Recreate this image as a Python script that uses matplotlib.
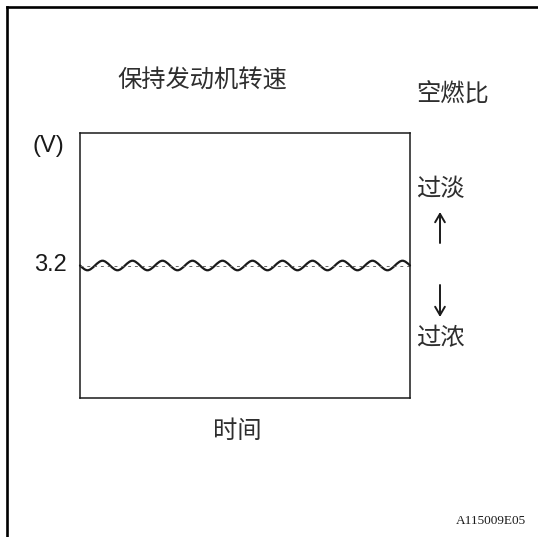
import matplotlib
matplotlib.use("Agg")
import matplotlib.pyplot as plt
from matplotlib.path import Path
from matplotlib.patches import PathPatch, FancyArrowPatch
from matplotlib.lines import Line2D

# data
level_v = 3.2
v_min, v_max = 0.0, 6.4
t_min, t_max = 0.0, 11.0
# extremes of the voltage ripple around 3.2 V (time, volts)
wave_t = [0.0, 0.25, 0.75, 1.25, 1.75, 2.25, 2.75, 3.25, 3.75, 4.25, 4.75, 5.25,
          5.75, 6.25, 6.75, 7.25, 7.75, 8.25, 8.75, 9.25, 9.75, 10.25, 10.75, 11.0]
wave_v = [3.2, 3.085, 3.315, 3.085, 3.315, 3.085, 3.315, 3.085, 3.315, 3.085, 3.315, 3.085,
          3.315, 3.085, 3.315, 3.085, 3.315, 3.085, 3.315, 3.085, 3.315, 3.085, 3.315, 3.2]

title_text = "保持发动机转速"
ratio_text = "空燃比"
lean_text = "过淡"
rich_text = "过浓"
time_text = "时间"
unit_text = "(V)"
tick_text = "3.2"
code_text = "A115009E05"

W, H = 538, 537
cjk = ["Noto Sans CJK SC", "DejaVu Sans"]
ink = "#1a1a1a"
cjk_ink = "#2e2e2e"

fig = plt.figure(figsize=(W / 100, H / 100), dpi=100)


def fx(x):
    return x / W


def fy(y):
    return 1 - y / H


# outer frame (top and left edges only)
fig.add_artist(Line2D([fx(7), 1.0], [fy(7), fy(7)], color="black", lw=1.9))
fig.add_artist(Line2D([fx(7), fx(7)], [fy(7), 0.0], color="black", lw=1.9))

ax = fig.add_axes([fx(80), fy(398), fx(410) - fx(80), fy(133) - fy(398)])
ax.set_xlim(t_min, t_max)
ax.set_ylim(v_min, v_max)
ax.set_xticks([])
ax.set_yticks([])
for s in ax.spines.values():
    s.set_linewidth(1.1)
    s.set_color(ink)

# dashed reference level
ax.axhline(level_v, color="#666666", lw=0.7, dashes=(3, 4))

# smooth ripple through the extremes
verts = [(wave_t[0], wave_v[0])]
codes = [Path.MOVETO]
n = len(wave_t)
for i in range(n - 1):
    x0, y0 = wave_t[i], wave_v[i]
    x1, y1 = wave_t[i + 1], wave_v[i + 1]
    dx = x1 - x0
    c0y = y0 if 0 < i else y0 + (y1 - y0) / 2
    c1y = y1 if i + 1 < n - 1 else y1 + (y0 - y1) / 2
    verts += [(x0 + dx / 3, c0y), (x1 - dx / 3, c1y), (x1, y1)]
    codes += [Path.CURVE4, Path.CURVE4, Path.CURVE4]
ax.add_patch(PathPatch(Path(verts, codes), fill=False, lw=1.6, color=ink,
                       capstyle="round", clip_on=False))

# labels
txt = dict(family=cjk, fontsize=17.5, color=cjk_ink, fontweight="light")
fig.text(fx(202), fy(81), title_text, ha="center", va="center", **txt)
fig.text(fx(453), fy(95), ratio_text, ha="center", va="center", **txt)
fig.text(fx(416), fy(189), lean_text, ha="left", va="center", **txt)
fig.text(fx(416), fy(338), rich_text, ha="left", va="center", **txt)
fig.text(fx(237), fy(431), time_text, ha="center", va="center", **txt)
fig.text(fx(64), fy(146), unit_text, family="Liberation Sans", fontsize=17,
         color=ink, ha="right", va="center")
fig.text(fx(67), fy(265), tick_text, family="Liberation Sans", fontsize=17,
         color=ink, ha="right", va="center")
fig.text(fx(526), fy(521), code_text, family="Liberation Serif", fontsize=9.5,
         color=ink, ha="right", va="center")

# direction arrows
for y0, y1 in [(243, 212), (285, 317)]:
    fig.add_artist(FancyArrowPatch((fx(440), fy(y0)), (fx(440), fy(y1)),
                                   transform=fig.transFigure,
                                   arrowstyle="->,head_length=6,head_width=3.5",
                                   lw=1.4, color=ink, shrinkA=0, shrinkB=0))

fig.savefig("out.png", dpi=100)
